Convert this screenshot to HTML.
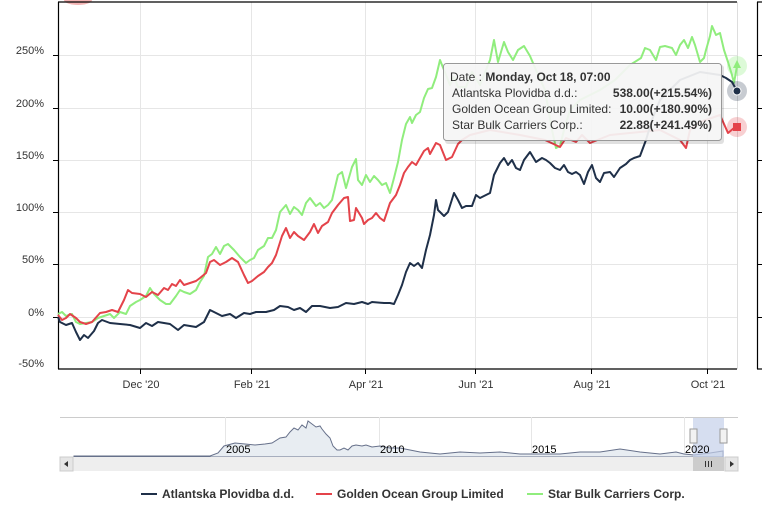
<!DOCTYPE html>
<html><head><meta charset="utf-8"><style>
html,body{margin:0;padding:0;background:#fff;}
svg{display:block;font-family:"Liberation Sans",Arial,sans-serif;}
</style></head><body>
<svg width="768" height="506" viewBox="0 0 768 506" xmlns="http://www.w3.org/2000/svg">
<!-- grid -->
<g stroke="#e6e6e6" stroke-width="1">
<line x1="58" y1="55.5" x2="737" y2="55.5"/><line x1="58" y1="108.5" x2="737" y2="108.5"/>
<line x1="58" y1="160.5" x2="737" y2="160.5"/><line x1="58" y1="212.5" x2="737" y2="212.5"/>
<line x1="58" y1="264.5" x2="737" y2="264.5"/><line x1="58" y1="317.5" x2="737" y2="317.5"/>
<line x1="140.5" y1="2" x2="140.5" y2="369"/><line x1="251.5" y1="2" x2="251.5" y2="369"/>
<line x1="365.5" y1="2" x2="365.5" y2="369"/><line x1="475.5" y1="2" x2="475.5" y2="369"/>
<line x1="591.5" y1="2" x2="591.5" y2="369"/><line x1="707.5" y1="2" x2="707.5" y2="369"/>
<line x1="737.5" y1="2" x2="737.5" y2="369" stroke="#ddd"/>
</g>
<ellipse cx="78" cy="0" rx="14" ry="5" fill="#f4b4b4"/>
<!-- axes -->
<g stroke="#000" stroke-width="1.2" fill="none">
<line x1="58" y1="2" x2="737" y2="2"/>
<line x1="58.5" y1="2" x2="58.5" y2="369"/>
<line x1="58" y1="369" x2="737" y2="369"/>
<line x1="757.5" y1="2" x2="757.5" y2="369"/>
<line x1="757" y1="2" x2="762" y2="2"/><line x1="757" y1="369" x2="762" y2="369"/>
</g>
<g stroke="#000" stroke-width="1">
<line x1="53" y1="55.5" x2="58" y2="55.5"/><line x1="53" y1="108.5" x2="58" y2="108.5"/><line x1="53" y1="160.5" x2="58" y2="160.5"/>
<line x1="53" y1="212.5" x2="58" y2="212.5"/><line x1="53" y1="264.5" x2="58" y2="264.5"/><line x1="53" y1="317.5" x2="58" y2="317.5"/>
<line x1="757" y1="55.5" x2="762" y2="55.5"/><line x1="757" y1="108.5" x2="762" y2="108.5"/><line x1="757" y1="160.5" x2="762" y2="160.5"/>
<line x1="757" y1="212.5" x2="762" y2="212.5"/><line x1="757" y1="264.5" x2="762" y2="264.5"/><line x1="757" y1="317.5" x2="762" y2="317.5"/>
<line x1="140.5" y1="369" x2="140.5" y2="374"/><line x1="251.5" y1="369" x2="251.5" y2="374"/><line x1="365.5" y1="369" x2="365.5" y2="374"/>
<line x1="475.5" y1="369" x2="475.5" y2="374"/><line x1="591.5" y1="369" x2="591.5" y2="374"/><line x1="707.5" y1="369" x2="707.5" y2="374"/>
</g>
<g font-size="11" fill="#333" text-anchor="end">
<text x="44" y="54">250%</text><text x="44" y="107">200%</text><text x="44" y="159">150%</text>
<text x="44" y="211">100%</text><text x="44" y="263">50%</text><text x="44" y="316">0%</text><text x="44" y="367">-50%</text>
</g>
<g font-size="11" fill="#333" text-anchor="middle">
<text x="141" y="388">Dec '20</text><text x="252" y="388">Feb '21</text><text x="366" y="388">Apr '21</text>
<text x="476" y="388">Jun '21</text><text x="592" y="388">Aug '21</text><text x="708" y="388">Oct '21</text>
</g>
<!-- series -->
<g fill="none" stroke-width="2" stroke-linejoin="round">
<polyline stroke="#90ed7d" points="58,314 62,312 66,316 72,314 76,322 80,324 86,323 92,322 98,318 104,316 110,314 114,318 120,312 126,314 130,306 136,302 140,300 146,296 150,288 154,294 160,300 166,304 170,304 176,296 180,290 184,292 190,294 196,290 200,282 204,276 208,257 212,254 216,247 220,254 224,246 228,244 234,250 240,257 246,263 250,260 254,258 258,250 264,246 268,238 272,238 276,230 280,212 286,205 290,214 294,207 298,210 302,215 306,203 310,198 316,206 320,203 324,208 328,205 332,200 338,175 342,172 346,188 352,167 356,159 358,180 362,185 366,175 370,182 374,176 378,180 382,185 386,183 390,193 394,178 398,162 402,140 406,124 410,117 412,123 416,115 420,112 424,98 428,89 432,88 436,77 440,60 446,75 450,85 454,77 458,87 466,87 472,72 480,85 490,60 494,40 498,62 504,42 508,52 513,60 518,50 524,46 530,56 536,70 545,90 552,130 556,148 560,146 564,130 570,110 580,100 600,90 615,80 630,65 641,58 645,48 650,50 656,60 660,47 665,46 672,48 676,55 680,45 684,40 688,48 692,37 695,45 700,62 704,58 706,50 710,36 712,26 716,35 720,33 724,50 728,62 732,75 734,83 737,66"/>
<polyline stroke="#e4434a" points="58,315 62,320 66,318 70,314 76,318 80,322 86,324 92,322 100,313 106,312 112,310 118,312 124,300 128,290 132,293 140,294 146,297 152,292 158,295 164,288 168,290 172,284 176,286 180,280 184,285 190,283 196,281 200,278 206,273 210,262 214,260 220,265 226,262 232,258 238,262 244,275 248,283 252,281 258,276 264,272 268,267 272,263 276,255 282,236 286,228 290,238 294,232 298,236 304,240 310,232 314,224 318,233 322,226 328,222 332,213 338,205 344,198 348,197 350,221 354,220 356,208 362,218 364,224 368,220 372,218 376,213 380,218 384,221 390,203 396,195 400,185 404,173 408,167 412,162 416,165 420,158 424,151 428,148 430,154 436,143 440,145 446,160 452,157 458,144 462,140 470,135 490,130 520,135 545,140 560,147 566,138 576,142 582,135 590,143 610,135 640,132 660,130 680,140 686,148 690,130 700,122 720,115 728,133 734,128 737,127"/>
<polyline stroke="#1f3049" points="58,317 60,322 66,325 72,323 76,332 80,340 84,335 88,338 94,331 98,323 102,320 110,323 120,324 130,325 140,328 146,323 152,326 158,322 170,324 178,330 184,325 196,327 204,322 210,310 216,313 222,316 230,314 236,318 244,313 250,314 256,312 266,312 274,310 280,306 288,307 294,310 300,308 306,312 312,306 320,306 330,308 338,307 346,303 354,304 362,302 368,304 372,302 384,303 390,303 394,304 398,295 402,285 406,272 410,263 414,266 418,263 422,268 426,250 430,235 434,215 436,200 438,210 440,212 444,216 448,212 454,193 458,200 462,208 466,206 472,206 476,195 480,198 484,196 490,193 494,175 500,163 504,158 508,165 512,160 516,168 520,170 524,160 530,152 536,162 542,158 546,160 550,163 555,168 560,170 564,165 568,172 572,174 576,172 580,175 584,184 588,172 592,165 596,178 600,182 604,173 610,172 614,177 620,168 626,164 630,160 634,158 640,156 646,140 652,120 660,100 680,80 700,72 720,75 726,78 732,82 737,91"/>
</g>
<!-- markers -->
<circle cx="737" cy="66" r="10" fill="#90ed7d" opacity="0.3"/>
<polygon points="737,60 741,68 733,68" fill="#90ed7d"/>
<circle cx="737" cy="91" r="10" fill="#1f3049" opacity="0.25"/>
<circle cx="737" cy="91" r="4" fill="#1f3049" stroke="#fff" stroke-width="1"/>
<circle cx="737" cy="127" r="10" fill="#e4434a" opacity="0.25"/>
<rect x="733" y="123" width="8" height="8" fill="#e4434a"/>
<!-- tooltip -->
<rect x="445" y="65" width="279" height="79" rx="3" fill="#000" opacity="0.12"/>
<rect x="443.5" y="63.5" width="278" height="77" rx="3" fill="#f7f7f7" fill-opacity="0.92" stroke="#999"/>
<g font-size="12" fill="#333">
<text x="450" y="81">Date : <tspan font-weight="bold">Monday, Oct 18, 07:00</tspan></text>
<text x="452" y="97">Atlantska Plovidba d.d.:</text>
<text x="452" y="113">Golden Ocean Group Limited:</text>
<text x="452" y="129">Star Bulk Carriers Corp.:</text>
<g font-weight="bold" text-anchor="end">
<text x="712" y="97">538.00(+215.54%)</text>
<text x="712" y="113">10.00(+180.90%)</text>
<text x="712" y="129">22.88(+241.49%)</text>
</g>
</g>
<!-- navigator -->
<line x1="60" y1="417.5" x2="738" y2="417.5" stroke="#ccc"/>
<g stroke="#e6e6e6"><line x1="225.5" y1="417" x2="225.5" y2="457"/><line x1="379.5" y1="417" x2="379.5" y2="457"/><line x1="531.5" y1="417" x2="531.5" y2="457"/><line x1="684.5" y1="417" x2="684.5" y2="457"/></g>
<path d="M74,456 L210,456 L218,453 L224,446 L235,443 L245,444 L255,445 L265,444 L272,443 L280,438 L286,437 L290,432 L294,428 L298,430 L302,425 L306,428 L308,421 L312,424 L316,427 L320,426 L322,429 L326,434 L330,438 L333,446 L337,450 L340,450 L344,448 L348,450 L352,446 L356,445 L362,446 L366,445 L372,447 L380,446 L390,448 L400,448 L410,450 L420,452 L430,453 L440,454 L460,452 L480,453 L500,452 L520,454 L540,454 L560,454 L580,452 L600,452 L620,449 L640,452 L660,454 L676,452 L684,454 L694,455 L710,453 L723,451 L723,457 L74,457 Z" fill="#e8edf2" stroke="#66708a" stroke-width="1"/>
<rect x="693" y="418" width="31" height="39" fill="#c5d0ea" opacity="0.7"/>
<g font-size="11" fill="#000"><text x="226" y="453">2005</text><text x="380" y="453">2010</text><text x="532" y="453">2015</text><text x="685" y="453">2020</text></g>
<rect x="690" y="429" width="7" height="14" fill="#f2f2f2" stroke="#999"/>
<rect x="720" y="429" width="7" height="14" fill="#f2f2f2" stroke="#999"/>
<rect x="60" y="457" width="678" height="14" fill="#eee"/>
<rect x="60" y="457" width="13" height="14" fill="#e6e6e6" stroke="#ccc"/>
<polygon points="68,461 64,464 68,467" fill="#333"/>
<rect x="693" y="457" width="31" height="14" fill="#ccc"/>
<g stroke="#333"><line x1="705.5" y1="461" x2="705.5" y2="467"/><line x1="708.5" y1="461" x2="708.5" y2="467"/><line x1="711.5" y1="461" x2="711.5" y2="467"/></g>
<rect x="725" y="457" width="13" height="14" fill="#e6e6e6" stroke="#ccc"/>
<polygon points="730,461 734,464 730,467" fill="#333"/>
<!-- legend -->
<g font-size="12" fill="#333" font-weight="bold">
<line x1="141" y1="494" x2="157" y2="494" stroke="#1f3049" stroke-width="2"/><text x="162" y="498">Atlantska Plovidba d.d.</text>
<line x1="316" y1="494" x2="332" y2="494" stroke="#e4434a" stroke-width="2"/><text x="337" y="498">Golden Ocean Group Limited</text>
<line x1="527" y1="494" x2="543" y2="494" stroke="#90ed7d" stroke-width="2"/><text x="548" y="498">Star Bulk Carriers Corp.</text>
</g>
</svg>
</body></html>
